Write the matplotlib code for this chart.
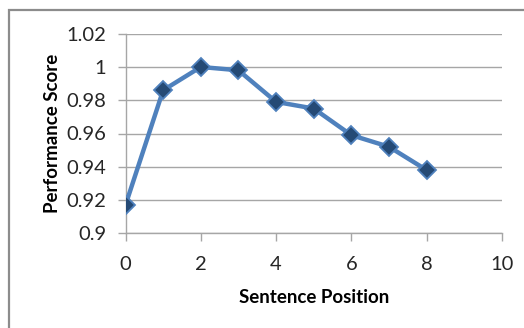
import matplotlib
matplotlib.use("Agg")
import matplotlib.pyplot as plt
from matplotlib.patches import Rectangle

# sentence position vs performance score
positions = [0, 1, 2, 3, 4, 5, 6, 7, 8]
scores = [0.917, 0.986, 1.000, 0.998, 0.979, 0.975, 0.959, 0.952, 0.938]

x_ticks = [0, 2, 4, 6, 8, 10]
y_ticks = [0.9, 0.92, 0.94, 0.96, 0.98, 1.0, 1.02]
y_labels = ["0.9", "0.92", "0.94", "0.96", "0.98", "1", "1.02"]

plt.rcParams['font.family'] = ['Lato', 'DejaVu Sans']

W, H = 524, 328
fig = plt.figure(figsize=(W / 100, H / 100), dpi=100)
ax = fig.add_axes([125.5 / W, 1 - 233.3 / H, (502 - 125.5) / W, (233.3 - 33.7) / H])

# outer chart border (cut off at right and bottom)
fig.patches.append(Rectangle((9 / W, -0.1), 1.2, (H - 10) / H + 0.1,
                             transform=fig.transFigure, fill=False,
                             edgecolor='#8c8c8c', linewidth=1.6))

ax.plot(positions, scores, color='#4f81bd', linewidth=3.2,
        marker='D', markersize=9, markerfacecolor='#254a75',
        markeredgecolor='#4f81bd', markeredgewidth=1.3, zorder=3)

ax.set_xlim(0, 10)
ax.set_ylim(0.9, 1.02)
ax.set_xticks(x_ticks)
ax.set_yticks(y_ticks)
ax.set_yticklabels(y_labels)
ax.grid(axis='y', color='#a6a6a6', linewidth=1)
ax.set_axisbelow(True)

for s in ['top', 'right']:
    ax.spines[s].set_visible(False)
for s in ['left', 'bottom']:
    ax.spines[s].set_color('#a6a6a6')
    ax.spines[s].set_linewidth(1)

ax.tick_params(axis='both', colors='#a6a6a6', length=6, width=1,
               labelcolor='#262626', labelsize=14.5)
ax.tick_params(axis='x', pad=10)
ax.tick_params(axis='y', pad=8)

ax.set_xlabel("Sentence Position", fontsize=13.5, fontweight='bold', labelpad=12)
ax.set_ylabel("Performance Score", fontsize=13.5, fontweight='bold', labelpad=4)

fig.savefig("out.png", dpi=100)
